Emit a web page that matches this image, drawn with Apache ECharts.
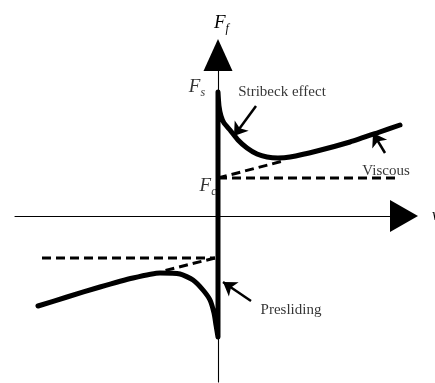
<!DOCTYPE html>
<html>
<head>
<meta charset="utf-8">
<script src="https://cdn.jsdelivr.net/npm/echarts@6/dist/echarts.min.js"></script>
<style>
  html, body { margin: 0; background: #fff; }
  #chart { width: 435px; height: 383px; }
</style>
</head>
<body>
<div id="chart"></div>
<script>
// friction force F_f vs velocity v (arbitrary units, origin where the axes cross)
const curveV = [-180, -151, -118, -85, -58, -38, -25, -15, -8, -4, -2, 0, 0, 1, 3, 6, 12, 20, 29, 39, 49, 60, 72, 99, 132, 159, 182];
const curveF = [-90, -81, -71, -62, -57, -58, -64, -74, -84, -97, -109, -121, 124, 110, 100, 93, 86, 76, 68, 62, 59, 58, 59, 65, 74, 83, 91];

// dashed guide lines: coulomb level and viscous slope
const coulombUpV = [0, 179];
const coulombUpF = [38, 38];
const viscousUpV = [0, 65];
const viscousUpF = [38, 55];
const coulombLowV = [-176, -3];
const coulombLowF = [-42, -42];
const viscousLowV = [-3, -55];
const viscousLowF = [-42, -55];

// annotation arrows: [tail, head]
const arrowCoords = [
  [[38, 110], [16, 80]],   // Stribeck effect
  [[167, 63], [155, 83]],  // Viscous
  [[33, -85], [5, -66]]    // Presliding
];

// text labels
const noteText = ["Stribeck effect", "Viscous", "Presliding"];
const notePos = [[64, 124], [168, 45], [73, -94]];
const levelText = ["{i|F}{s|s}", "{i|F}{s|c}"];
const levelPos = [[-21, 128], [-10, 29]];

const zip = (a, b) => a.map((v, i) => [v, b[i]]);
const serif = "Liberation Serif";
const italicRich = {
  i: { fontFamily: serif, fontStyle: "italic", fontSize: 19, color: "#000", verticalAlign: "bottom", padding: [0, 0, 3, 0] },
  s: { fontFamily: serif, fontStyle: "italic", fontSize: 12, color: "#000", verticalAlign: "bottom" }
};

const chart = echarts.init(document.getElementById("chart"));

const dashed = (v, f) => ({
  type: "line",
  data: zip(v, f),
  symbol: "none",
  silent: true,
  lineStyle: { color: "#000", width: 3, type: [9, 5] }
});

chart.setOption({
  animation: false,
  backgroundColor: "#fff",
  grid: { left: 15, right: 31, top: 55, bottom: 1, containLabel: false, outerBoundsMode: "none" },
  xAxis: {
    type: "value",
    min: -203,
    max: 186,
    name: "v",
    nameGap: 28,
    nameTextStyle: { fontFamily: serif, fontStyle: "italic", fontSize: 16, color: "#000", verticalAlign: "middle" },
    axisLine: { onZero: true, symbol: ["none", "triangle"], symbolSize: [32, 28], lineStyle: { color: "#000", width: 1.1 } },
    axisTick: { show: false },
    axisLabel: { show: false },
    splitLine: { show: false }
  },
  yAxis: {
    type: "value",
    min: -166,
    max: 161,
    name: "{i|F}{s|f}",
    nameGap: 20,
    nameTextStyle: { rich: italicRich, align: "left", padding: [0, 0, 0, -4] },
    axisLine: { onZero: true, symbol: ["none", "triangle"], symbolSize: [29, 32], lineStyle: { color: "#000", width: 1.1 } },
    axisTick: { show: false },
    axisLabel: { show: false },
    splitLine: { show: false }
  },
  series: [
    dashed(coulombUpV, coulombUpF),
    dashed(viscousUpV, viscousUpF),
    dashed(coulombLowV, coulombLowF),
    dashed(viscousLowV, viscousLowF),
    {
      type: "line",
      data: zip(curveV, curveF),
      symbol: "none",
      smooth: 0.2,
      silent: true,
      z: 5,
      lineStyle: { color: "#000", width: 5, cap: "round", join: "round" }
    },
    {
      type: "lines",
      coordinateSystem: "cartesian2d",
      silent: true,
      symbol: ["none", "arrow"],
      symbolSize: 13,
      z: 6,
      lineStyle: { color: "#000", width: 2.5, opacity: 1 },
      data: arrowCoords.map(c => ({ coords: c }))
    },
    {
      type: "scatter",
      symbolSize: 0,
      silent: true,
      z: 7,
      data: noteText.map((t, i) => ({
        value: notePos[i],
        label: { show: true, position: "inside", formatter: t, fontFamily: serif, fontSize: 15, color: "#000", textBorderWidth: 0 }
      })).concat(levelText.map((t, i) => ({
        value: levelPos[i],
        label: { show: true, position: "inside", formatter: t, rich: italicRich, textBorderWidth: 0 }
      })))
    }
  ]
});
</script>
</body>
</html>
